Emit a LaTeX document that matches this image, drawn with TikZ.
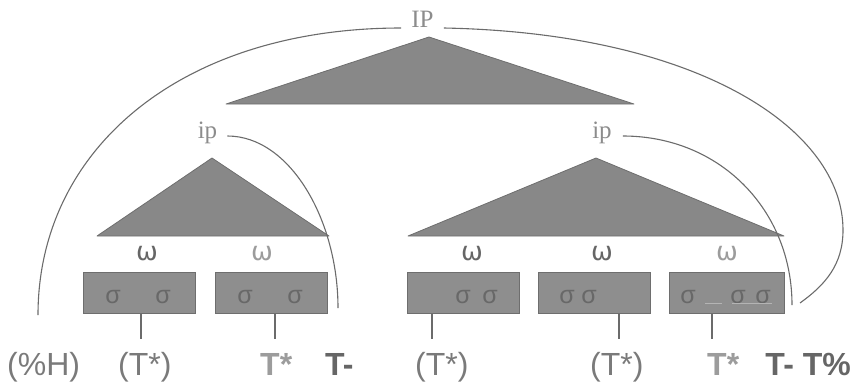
\documentclass[tikz,border=0pt]{standalone}
\usepackage{fontspec}
\setmainfont{Liberation Serif}
\newfontfamily\sansf{Liberation Sans}
\newfontfamily\omegaf{DejaVu Sans}
\definecolor{linecol}{HTML}{6B6B6B}
\definecolor{trifill}{HTML}{888888}
\definecolor{boxfill}{HTML}{8E8E8E}
\definecolor{boxedge}{HTML}{6E6E6E}
\definecolor{txtgray}{HTML}{7A7A7A}
\definecolor{lightgray}{HTML}{9C9C9C}
\definecolor{darkgray}{HTML}{666666}
\definecolor{sigcol}{HTML}{686868}
\definecolor{ulcol}{HTML}{B4B4B4}
\definecolor{lblcol}{HTML}{8C8C8C}
\tikzset{
  arcline/.style={draw=linecol, line width=1.1pt},
  tick/.style={draw=linecol, line width=1.1pt},
  tri/.style={fill=trifill, draw=boxedge, line width=0.8pt, line join=round},
  sbox/.style={fill=boxfill, draw=boxedge, line width=1pt, minimum width=112pt, minimum height=41pt, inner sep=0pt, anchor=north west},
  phrase/.style={font=\fontsize{25}{25}\selectfont, text=lblcol, inner ysep=0pt, anchor=base},
  wlabel/.style={font=\omegaf\fontsize{26}{26}\selectfont, text=darkgray, inner sep=0pt, anchor=base},
  syl/.style={font=\sansf\fontsize{25}{25}\selectfont, text=sigcol, inner sep=0pt, anchor=base},
  tone/.style={font=\sansf\fontsize{32}{32}\selectfont, text=txtgray, inner sep=0pt, anchor=base west},
  tonestar/.style={font=\sansf\bfseries\fontsize{32}{32}\selectfont, text=lightgray, inner sep=0pt, anchor=base west},
  toneedge/.style={font=\sansf\bfseries\fontsize{32}{32}\selectfont, text=darkgray, inner sep=0pt},
}
\begin{document}
\begin{tikzpicture}[x=1pt,y=-1pt]
\useasboundingbox (0,0) rectangle (854,381);
% triangles
\filldraw[tri] (429,37) -- (634,104) -- (226,104) -- cycle;
\filldraw[tri] (212,158) -- (329,236) -- (97,236) -- cycle;
\filldraw[tri] (596,158) -- (784,236) -- (408,236) -- cycle;
% phrase labels
\node[phrase, inner xsep=10pt] (IP) at (422.5,27) {IP};
\node[phrase, inner xsep=10pt] (ipL) at (207.5,138) {ip};
\node[phrase, inner xsep=11pt] (ipR) at (602,138) {ip};
% arc ends
\coordinate (IPendL) at (38,315);
\coordinate (IPendR) at (800,303);
\coordinate (ipLend) at (338,308);
\coordinate (ipRend) at (792,305);
\draw[arcline] ([yshift=-1pt]IP.base west) .. controls (180,28) and (38,150) .. (IPendL);
\draw[arcline] ([yshift=-1pt]IP.base east) .. controls (700,33) and (843,130) .. (843,230) .. controls (843,265) and (825,285) .. (IPendR);
\draw[arcline] ([yshift=2pt]ipL.base east) .. controls (290,136) and (338,220) .. (ipLend);
\draw[arcline] ([yshift=2pt]ipR.base east) .. controls (720,136) and (792,210) .. (ipRend);
% boxes
\node[sbox] (b1) at (83,272) {};
\node[sbox] (b2) at (215,272) {};
\node[sbox] (b3) at (407,272) {};
\node[sbox] (b4) at (538,272) {};
\node[sbox, minimum width=115pt] (b5) at (669,272) {};
% omega labels
\node[wlabel] (w1) at (147,260) {ω};
\node[wlabel, text=lightgray] (w2) at (262,260) {ω};
\node[wlabel] (w3) at (472,260) {ω};
\node[wlabel] (w4) at (602,260) {ω};
\node[wlabel, text=lightgray] (w5) at (727,260) {ω};
% syllables
\node[syl] (s11) at (113,303) {σ};
\node[syl] (s12) at (163,303) {σ};
\node[syl] (s21) at (245,303) {σ};
\node[syl] (s22) at (295,303) {σ};
\node[syl] (s31) at (463,303) {σ};
\node[syl] (s32) at (490,303) {σ};
\node[syl] (s41) at (567,303) {σ};
\node[syl] (s42) at (589,303) {σ};
\node[syl] (s51) at (688,303) {σ};
\node[syl] (s52) at (738,303) {σ};
\node[syl] (s53) at (763,303) {σ};
\draw[ulcol, line width=1pt] (705,303.5) -- (722,303.5);
\draw[ulcol, line width=1pt] (732,303.5) -- (772,303.5);
% tone ticks
\coordinate (t1) at (141,339);
\coordinate (t2) at (275,339);
\coordinate (t3) at (432,339);
\coordinate (t4) at (619,339);
\coordinate (t5) at (712,339);
\draw[tick] (t1 |- b1.south) -- (t1);
\draw[tick] (t2 |- b2.south) -- (t2);
\draw[tick] (t3 |- b3.south) -- (t3);
\draw[tick] (t4 |- b4.south) -- (t4);
\draw[tick] (t5 |- b5.south) -- (t5);
% tones
\node[tone] (H) at (7,375) {(\%H)};
\node[tone] (T1) at (118,375) {(T*)};
\node[tonestar] (T2) at (260,375) {T*};
\node[toneedge, anchor=base west] (Tm1) at (325,375) {T-};
\node[tone] (T3) at (415,375) {(T*)};
\node[tone] (T4) at (590,375) {(T*)};
\node[tonestar] (T5) at (707,375) {T*};
\node[toneedge, anchor=base east] (Tm2) at (851,375) {T- T\%};
\end{tikzpicture}
\end{document}
